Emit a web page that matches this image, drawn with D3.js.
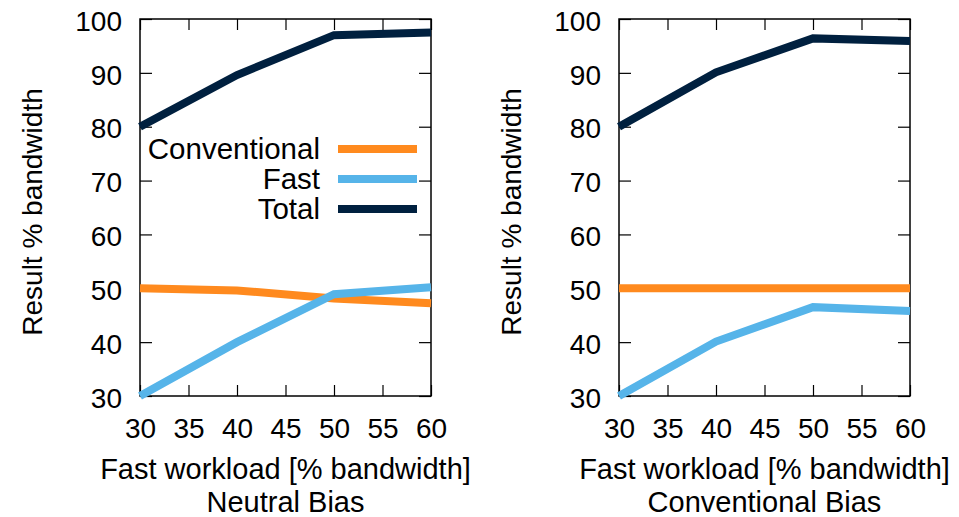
<!DOCTYPE html>
<html>
<head>
<meta charset="utf-8">
<script src="https://cdn.jsdelivr.net/npm/d3@7"></script>
<style>
  body { margin: 0; background: #fff; }
  svg text { font-family: "Liberation Sans", Arial, Helvetica, sans-serif; fill: #000; }
</style>
</head>
<body>
<div id="chart"></div>
<script>
// Two panels: bandwidth share under neutral vs conventional bias

const WIDTH = 959
const HEIGHT = 517

// data
const workload = [30, 40, 50, 60]
const xTicks = [30, 35, 40, 45, 50, 55, 60]
const yTicks = [30, 40, 50, 60, 70, 80, 90, 100]
const seriesNames = ["Conventional", "Fast", "Total"]
const seriesColors = ["#ff8a1e", "#56b4e9", "#00203f"]

const neutralConventional = [50, 49.6, 48.1, 47.2]
const neutralFast = [30, 40, 48.9, 50.2]
const neutralTotal = [80, 89.6, 97, 97.5]

const convConventional = [50, 50, 50, 50]
const convFast = [30, 40.1, 46.5, 45.8]
const convTotal = [80, 90.1, 96.4, 95.9]

const panels = [
  { title: "Neutral Bias", left: 140, right: 431, series: [neutralConventional, neutralFast, neutralTotal], legend: true },
  { title: "Conventional Bias", left: 619, right: 910, series: [convConventional, convFast, convTotal], legend: false }
]

const TOP = 19
const BOTTOM = 396
const TICK_FONT = 28
const FONT = 29.5
const XTITLE_FONT = 29

const svg = d3.select("#chart")
  .append("svg")
  .attr("width", WIDTH)
  .attr("height", HEIGHT)

const y = d3.scaleLinear().domain([30, 100]).range([BOTTOM, TOP])

panels.forEach(function(p) {
  const x = d3.scaleLinear().domain([30, 60]).range([p.left, p.right])
  const g = svg.append("g")

  // inward ticks on all four sides
  const bottomAxis = g.append("g")
    .attr("transform", `translate(0,${BOTTOM})`)
    .call(d3.axisBottom(x).tickValues(xTicks).tickSizeInner(-11).tickSizeOuter(0))
  bottomAxis.selectAll("text")
    .attr("y", 42).attr("dy", 0)
    .style("font-size", TICK_FONT + "px")
    .style("font-family", "Liberation Sans, Arial, sans-serif")

  g.append("g")
    .attr("transform", `translate(0,${TOP})`)
    .call(d3.axisTop(x).tickValues(xTicks).tickSizeInner(-11).tickSizeOuter(0).tickFormat(""))

  const leftAxis = g.append("g")
    .attr("transform", `translate(${p.left},0)`)
    .call(d3.axisLeft(y).tickValues(yTicks).tickSizeInner(-12).tickSizeOuter(0))
  leftAxis.selectAll("text")
    .attr("x", -18).attr("dy", "0.4em")
    .style("font-size", TICK_FONT + "px")
    .style("font-family", "Liberation Sans, Arial, sans-serif")

  g.append("g")
    .attr("transform", `translate(${p.right},0)`)
    .call(d3.axisRight(y).tickValues(yTicks).tickSizeInner(-12).tickSizeOuter(0).tickFormat(""))

  g.selectAll(".domain").remove()
  g.selectAll(".tick line").attr("stroke", "#000").attr("stroke-width", 1.2)

  // frame
  g.append("rect")
    .attr("x", p.left)
    .attr("y", TOP)
    .attr("width", p.right - p.left)
    .attr("height", BOTTOM - TOP)
    .attr("fill", "none")
    .attr("stroke", "#000")
    .attr("stroke-width", 1.5)

  // lines
  const line = d3.line()
    .x(function(d, i) { return x(workload[i]) })
    .y(function(d) { return y(d) })

  p.series.forEach(function(values, i) {
    g.append("path")
      .datum(values)
      .attr("d", line)
      .attr("fill", "none")
      .attr("stroke", seriesColors[i])
      .attr("stroke-width", 8)
      .attr("stroke-linejoin", "miter")
      .attr("stroke-linecap", "butt")
  })

  // legend (left panel only)
  if (p.legend) {
    seriesNames.forEach(function(name, i) {
      const ly = 149 + i * 30
      g.append("text")
        .attr("x", 320)
        .attr("y", ly + 10)
        .attr("text-anchor", "end")
        .style("font-size", FONT + "px")
        .text(name)
      g.append("line")
        .attr("x1", 338).attr("x2", 417)
        .attr("y1", ly).attr("y2", ly)
        .attr("stroke", seriesColors[i])
        .attr("stroke-width", 8)
    })
  }

  // axis titles
  g.append("text")
    .attr("transform", `translate(${p.left - 98},212) rotate(-90)`)
    .attr("text-anchor", "middle")
    .style("font-size", TICK_FONT + "px")
    .text("Result % bandwidth")

  const cx = (p.left + p.right) / 2
  g.append("text")
    .attr("x", cx).attr("y", 479)
    .attr("text-anchor", "middle")
    .style("font-size", XTITLE_FONT + "px")
    .text("Fast workload [% bandwidth]")
  g.append("text")
    .attr("x", cx).attr("y", 512)
    .attr("text-anchor", "middle")
    .style("font-size", XTITLE_FONT + "px")
    .text(p.title)
})
</script>
</body>
</html>
